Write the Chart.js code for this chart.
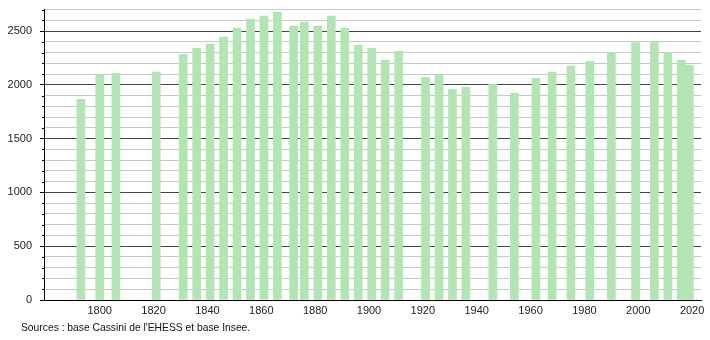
<!DOCTYPE html>
<html>
<head>
<meta charset="utf-8">
<script src="https://cdn.jsdelivr.net/npm/chart.js@4"></script>
<style>
  html, body { margin: 0; padding: 0; background: #fff; overflow: hidden; }
  #wrap { position: relative; width: 710px; height: 340px; overflow: hidden; }
  #popChart { position: absolute; left: 0; top: -5px; }
  #source {
    position: absolute; left: 21px; top: 322px;
    font: 10.3px "Liberation Sans", Arial, sans-serif; color: #111;
  }
</style>
</head>
<body>
<div id="wrap">
  <canvas id="popChart" width="710" height="345"></canvas>
  <div id="source">Sources : base Cassini de l'EHESS et base Insee.</div>
</div>
<script>
const years = [1793, 1800, 1806, 1821, 1831, 1836, 1841, 1846, 1851, 1856, 1861, 1866,
  1872, 1876, 1881, 1886, 1891, 1896, 1901, 1906, 1911, 1921, 1926, 1931, 1936,
  1946, 1954, 1962, 1968, 1975, 1982, 1990, 1999, 2006, 2011, 2016, 2019];
const population = [1866, 2093, 2108, 2118, 2285, 2341, 2379, 2444, 2528, 2612, 2640, 2677,
  2547, 2584, 2547, 2640, 2528, 2369, 2341, 2229, 2313, 2071, 2093, 1959, 1978,
  2006, 1922, 2062, 2118, 2174, 2220, 2301, 2394, 2394, 2298, 2229, 2183];
const xTickLabels = [1800, 1820, 1840, 1860, 1880, 1900, 1920, 1940, 1960, 1980, 2000, 2020];
const yTickLabels = [0, 500, 1000, 1500, 2000, 2500];

const FONT = "'Liberation Sans', Arial, sans-serif";

// short minor tick marks on the y axis
const minorTicks = {
  id: "minorTicks",
  afterDraw(chart) {
    const y = chart.scales.y;
    const ctx = chart.ctx;
    ctx.save();
    ctx.strokeStyle = "#000";
    ctx.lineWidth = 1;
    y.ticks.forEach((t) => {
      if (yTickLabels.includes(t.value)) return;
      const py = Math.round(y.getPixelForValue(t.value)) + 0.5;
      ctx.beginPath();
      ctx.moveTo(y.right - 2, py);
      ctx.lineTo(y.right, py);
      ctx.stroke();
    });
    ctx.restore();
  },
};

new Chart(document.getElementById("popChart"), {
  type: "bar",
  data: {
    datasets: [{
      data: years.map((yr, i) => ({ x: yr, y: population[i] })),
      backgroundColor: "#b3e4b3",
      borderWidth: 0,
      barThickness: 8,
    }],
  },
  options: {
    responsive: false,
    animation: false,
    layout: { padding: { top: 5, right: 9, left: 0, bottom: 0 } },
    plugins: { legend: { display: false }, tooltip: { enabled: false } },
    scales: {
      x: {
        type: "linear",
        offset: false,
        min: 1779.3,
        max: 2023.3,
        afterBuildTicks: (scale) => {
          scale.ticks = xTickLabels.map((v) => ({ value: v }));
        },
        afterFit: (scale) => { scale.height = 40; },
        grid: { display: false, drawTicks: false, offset: false },
        border: { display: true, color: "#000", width: 1 },
        ticks: {
          padding: 4,
          maxRotation: 0,
          autoSkip: false,
          color: "#222",
          font: { family: FONT, size: 11 },
          callback: (v) => String(v),
        },
      },
      y: {
        min: 0,
        max: 2700,
        afterFit: (scale) => { scale.width = 44; },
        border: { display: true, color: "#000", width: 1 },
        grid: {
          color: (c) => (yTickLabels.includes(c.tick.value) ? "#444" : "#c8c8c8"),
          tickColor: (c) => (yTickLabels.includes(c.tick.value) ? "#000" : "rgba(0,0,0,0)"),
          tickLength: 4,
          lineWidth: 1,
        },
        ticks: {
          stepSize: 100,
          autoSkip: false,
          padding: 8,
          color: "#222",
          font: { family: FONT, size: 11 },
          callback: (v) => (yTickLabels.includes(v) ? String(v) : ""),
        },
      },
    },
  },
  plugins: [minorTicks],
});
</script>
</body>
</html>
